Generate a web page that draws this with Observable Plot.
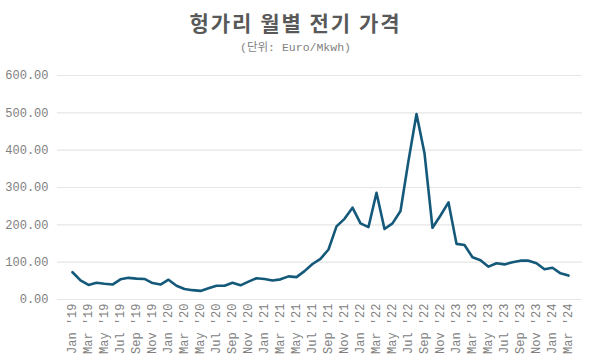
<!DOCTYPE html>
<html>
<head>
<meta charset="utf-8">
<script src="https://cdn.jsdelivr.net/npm/d3@7"></script>
<script src="https://cdn.jsdelivr.net/npm/@observablehq/plot@0.6"></script>
<style>
  body { margin: 0; background: #fff; width: 591px; height: 360px; overflow: hidden; }
  #title { height: 36px; line-height: 44px; text-align: center; font-family: "Noto Sans CJK KR", sans-serif; font-weight: bold; font-size: 21px; letter-spacing: 2px; color: #595959; }
  #sub { height: 24px; line-height: 24px; text-align: center; font-family: "Liberation Mono", "Noto Sans CJK KR", monospace; font-size: 11.5px; color: #7f7f7f; }
</style>
</head>
<body>
<div id="title">헝가리 월별 전기 가격</div>
<div id="sub">(단위: Euro/Mkwh)</div>
<div id="chart"></div>
<script>
const months = ["Jan","Feb","Mar","Apr","May","Jun","Jul","Aug","Sep","Oct","Nov","Dec"];
const years = ["19","20","21","22","23","24"];
const labels = [];
for (const y of years) for (const m of months) labels.push(`${m} '${y}`);
const periods = labels.slice(0, 63);
const prices = [
  73, 51, 39, 45, 42, 40, 54, 58, 56, 55, 44, 40,
  53, 37, 28, 25, 23, 30, 37, 37, 45, 38, 48, 57,
  55, 51, 54, 62, 60, 76, 95, 109, 134, 196, 216, 246,
  204, 194, 286, 189, 204, 237, 372, 497, 392, 192, 225, 260,
  149, 146, 113, 105, 88, 97, 94, 100, 104, 104, 97, 81,
  85, 70, 64
];
const yTicks = [0, 100, 200, 300, 400, 500, 600];
const data = periods.map((p, i) => ({period: p, price: prices[i]}));

const chart = Plot.plot({
  width: 591,
  height: 300,
  marginTop: 15,
  marginBottom: 61,
  marginLeft: 57,
  marginRight: 9,
  style: { fontFamily: "Liberation Mono, monospace", fontSize: "12px", color: "#808080", background: "#fff" },
  x: { type: "point", domain: periods, padding: 0.5, label: null },
  y: { domain: [0, 600], label: null },
  marks: [
    Plot.ruleY(yTicks, { stroke: "#e6e6e6", strokeWidth: 1.2 }),
    Plot.axisY(yTicks, { tickSize: 0, tickPadding: 9, tickFormat: d3.format(".2f"), label: null, fill: "#808080" }),
    Plot.axisX(periods.filter((d, i) => i % 2 === 0), { tickSize: 0, tickPadding: 4, tickRotate: -90, label: null, fill: "#808080" }),
    Plot.line(data, { x: "period", y: "price", stroke: "#15597a", strokeWidth: 2.6, strokeLinejoin: "round" })
  ]
});
document.getElementById("chart").appendChild(chart);
</script>
</body>
</html>
